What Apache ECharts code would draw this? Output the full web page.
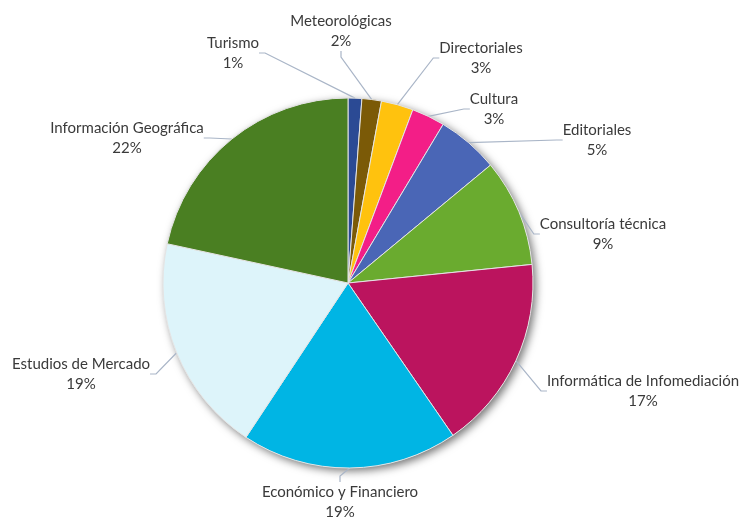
<!DOCTYPE html>
<html><head><meta charset="utf-8">
<script src="https://cdn.jsdelivr.net/npm/echarts@6/dist/echarts.min.js"></script>
<style>html,body{margin:0;padding:0;background:#fff}#c{width:743px;height:520px}</style>
</head><body><div id="c"></div>
<script>
const categories = ['Turismo','Meteorológicas','Directoriales','Cultura','Editoriales','Consultoría técnica','Informática de Infomediación','Económico y Financiero','Estudios de Mercado','Información Geográfica'];
const shares = [1.2, 1.7, 2.8, 2.9, 5.4, 9.4, 17.0, 18.9, 19.1, 21.6];
const colors = ['#2B4A94','#7B5A07','#FFC20E','#F31E87','#4A66B6','#6AAB2F','#BB145E','#00B5E4','#DDF4FA','#4A7F22'];
const labelCenters = [[233,53],[341,31],[481,58],[494,109],[597,140],[603,234],[643,391],[340,502],[81,374],[127,138]];

const chart = echarts.init(document.getElementById('c'), null, {renderer:'canvas'});
const center = [348, 283];
const radius = 185;
chart.setOption({
  backgroundColor: '#ffffff',
  animation: false,
  series: [
    {
      type: 'pie', center: center, radius: radius, silent: true, z: 1,
      data: [{value: 1, name: ''}],
      label: {show: false}, labelLine: {show: false},
      itemStyle: {color: '#ffffff', shadowBlur: 9, shadowOffsetX: 3, shadowOffsetY: 3, shadowColor: 'rgba(0,0,0,0.55)'}
    },
    {
      type: 'pie', center: center, radius: radius, z: 2,
      startAngle: 90, clockwise: true,
      avoidLabelOverlap: false,
      percentPrecision: 0,
      data: categories.map((n, i) => ({name: n, value: shares[i], itemStyle: {color: colors[i]}})),
      itemStyle: {borderColor: '#e4e4e4', borderWidth: 1},
      label: {
        show: true, position: 'outside',
        formatter: '{b}\n{d}%',
        fontFamily: 'Lato', fontSize: 15, color: '#3a3a3a', lineHeight: 20
      },
      labelLine: {show: true, length: 10, length2: 6, lineStyle: {color: '#A9B5C7', width: 1.2}},
      labelLayout: function (params) {
        const p = labelCenters[params.dataIndex];
        return {x: p[0], y: p[1], align: 'center', verticalAlign: 'middle'};
      }
    }
  ]
});
</script></body></html>
